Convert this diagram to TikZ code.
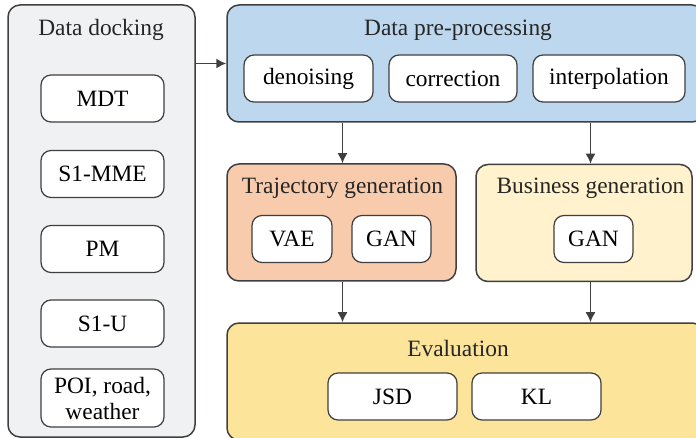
\documentclass[tikz,border=0pt]{standalone}
\usepackage{fontspec}
\setmainfont{LiberationSerif}[Extension = .ttf, UprightFont = *-Regular, BoldFont = *-Bold]
\usetikzlibrary{arrows.meta}

\definecolor{linegray}{HTML}{3F3F3F}
\definecolor{dockgray}{HTML}{F0F1F3}
\definecolor{preblue}{HTML}{BDD7EE}
\definecolor{trajorange}{HTML}{F8CBAD}
\definecolor{busyellow}{HTML}{FFF2CC}
\definecolor{evalyellow}{HTML}{FCE49B}

\begin{document}
\begin{tikzpicture}[x = 0.5pt, y = -0.5pt,
                    font = \rmfamily\fontsize{11.7}{13}\selectfont,
                    group/.style = {draw = linegray, line width = 0.75pt, rounded corners = 6pt, inner sep = 0pt},
                    item/.style = {draw = linegray, fill = white, line width = 0.6pt, rounded corners = 5pt,
                                   minimum height = 23.5pt, inner sep = 0pt, align = center},
                    title/.style = {inner sep = 0pt, text = black!85},
                    link/.style = {draw = linegray, line width = 0.8pt, -{Latex[length = 5pt, width = 5pt]}}]
  \path [use as bounding box, clip] (0,0) rectangle (696,438);

  % groups
  \node [group, fill = dockgray, minimum width = 93.5pt, minimum height = 216pt] (dock) at (101.5,221) {};
  \node [group, fill = preblue, minimum width = 238.5pt, minimum height = 58.5pt] (pre) at (465.5,63.5) {};
  \node [group, fill = trajorange, minimum width = 114.5pt, minimum height = 58.5pt] (traj) at (341.5,222.5) {};
  \node [group, fill = busyellow, minimum width = 108pt, minimum height = 58.5pt] (bus) at (584,223) {};
  \node [group, fill = evalyellow, minimum width = 238.5pt, minimum height = 58.5pt] (eval) at (465.5,381.5) {};

  \node [title] (docktitle) at (101,30) {Data docking};
  \node [title] (pretitle) at (458,30) {Data pre-processing};
  \node [title] (trajtitle) at (342.5,188) {Trajectory generation};
  \node [title] (bustitle) at (590.5,188) {Business generation};
  \node [title] (evaltitle) at (458,348) {Evaluation};

  % data sources
  \node [item, minimum width = 61.5pt] (mdt) at (102.5,98.5) {MDT};
  \node [item, minimum width = 61.5pt] (mme) at (102.5,174) {S1-MME};
  \node [item, minimum width = 61.5pt] (pm) at (102.5,249) {PM};
  \node [item, minimum width = 61.5pt] (s1u) at (102.5,323.5) {S1-U};
  \node [item, minimum width = 61.5pt, minimum height = 29pt] (poi) at (102.5,398) {POI, road,\\weather};

  % processing steps
  \node [item, minimum width = 64.5pt] (denoise) at (308.5,78.5) {denoising};
  \node [item, minimum width = 64pt] (correct) at (453,78.5) {correction};
  \node [item, minimum width = 76pt] (interp) at (609,78.5) {interpolation};

  \node [item, minimum width = 40pt] (vae) at (292,239) {VAE};
  \node [item, minimum width = 39.5pt] (gantraj) at (391.5,239) {GAN};
  \node [item, minimum width = 39.5pt] (ganbus) at (593.5,239) {GAN};

  \node [item, minimum width = 64.5pt] (jsd) at (392.5,396.5) {JSD};
  \node [item, minimum width = 64.5pt] (kl) at (536.5,396.5) {KL};

  \draw [link] (dock.east |- pre.west) -- (pre.west);
  \draw [link] (pre.south -| trajtitle) -- (traj.north -| trajtitle);
  \draw [link] (pre.south -| bustitle) -- (bus.north -| bustitle);
  \draw [link] (traj.south -| trajtitle) -- (eval.north -| trajtitle);
  \draw [link] (bus.south -| bustitle) -- (eval.north -| bustitle);
\end{tikzpicture}
\end{document}
